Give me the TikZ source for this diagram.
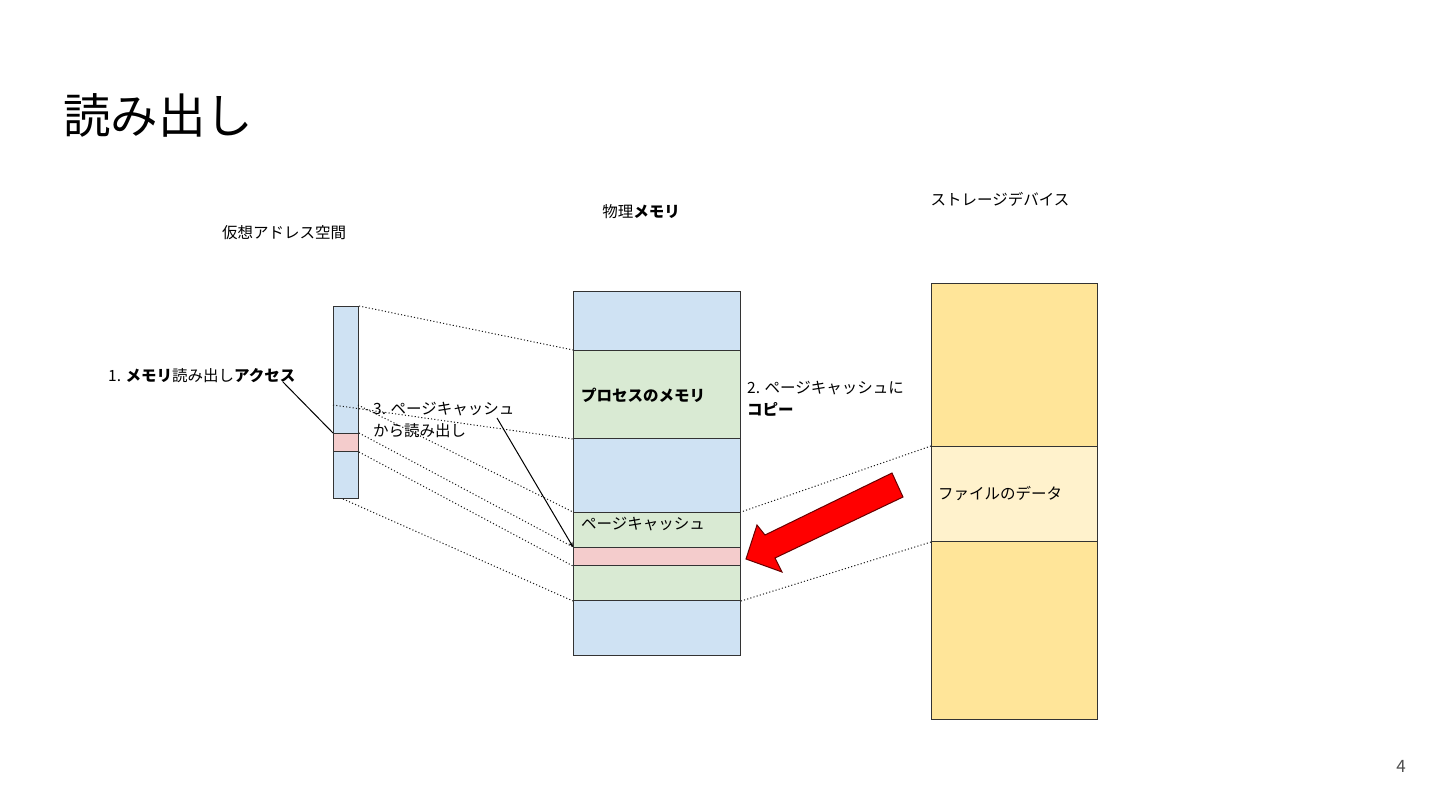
\documentclass[tikz,border=0pt]{standalone}
\usepackage{fontspec}
\setmainfont{Noto Sans CJK JP}
\usetikzlibrary{arrows.meta}
\definecolor{cblue}{HTML}{CFE2F3}
\definecolor{cgreen}{HTML}{D9EAD3}
\definecolor{cpink}{HTML}{F4CCCC}
\definecolor{cyel}{HTML}{FFE599}
\definecolor{clyel}{HTML}{FFF2CC}
\definecolor{cborder}{HTML}{333333}
\begin{document}
\begin{tikzpicture}[x=1pt,y=-1pt,
  band/.style={draw=cborder, line width=1pt, inner sep=0pt, anchor=north west},
  map/.style={line width=1pt, dash pattern=on 1.1pt off 2.2pt, draw=black!90},
  lbl/.style={inner sep=0pt, anchor=west, align=left, font=\fontsize{15.5}{22}\selectfont},
  hdr/.style={inner sep=0pt, anchor=center, font=\fontsize{15.5}{22}\selectfont},
  callout/.style={line width=1pt, draw=black}]
\useasboundingbox (0,0) rectangle (1440,810);
% title
\node[inner sep=0pt, anchor=west, font=\fontsize{47.5}{52}\selectfont] (title) at (63,115) {読み出し};
\node[inner sep=0pt, font=\fontsize{17}{20}\selectfont, text=black!70] (pnum) at (1401,766) {4};
% headers
\node[hdr] (hv) at (284,233) {仮想アドレス空間};
\node[hdr] (hp) at (641,212) {物理\textbf{メモリ}};
\node[hdr] (hs) at (1000,199) {ストレージデバイス};
% virtual address space
\node[band, fill=cblue, minimum width=25pt, minimum height=127pt] (vtop) at (333,306) {};
\node[band, fill=cpink, minimum width=25pt, minimum height=18pt] (vpink) at (333,433) {};
\node[band, fill=cblue, minimum width=25pt, minimum height=47pt] (vbot) at (333,451) {};
\coordinate (vl405) at (333,405);
\coordinate (vr405) at (358,405);
% physical memory
\node[band, fill=cblue, minimum width=167pt, minimum height=59pt] (p1) at (573,291) {};
\node[band, fill=cgreen, minimum width=167pt, minimum height=88pt] (p2) at (573,350) {};
\node[band, fill=cblue, minimum width=167pt, minimum height=74pt] (p3) at (573,438) {};
\node[band, fill=cgreen, minimum width=167pt, minimum height=88pt] (p4) at (573,512) {};
\node[band, fill=cpink, minimum width=167pt, minimum height=18pt] (ppink) at (573,547) {};
\node[band, fill=cblue, minimum width=167pt, minimum height=55pt] (p5) at (573,600) {};
\node[lbl] (tproc) at (581,395) {\textbf{プロセスのメモリ}};
\node[lbl] (tpc) at (581,524) {ページキャッシュ};
% storage
\node[band, fill=cyel, minimum width=166pt, minimum height=163pt] (s1) at (931,283) {};
\node[band, fill=clyel, minimum width=166pt, minimum height=95pt] (s2) at (931,446) {};
\node[band, fill=cyel, minimum width=166pt, minimum height=178pt] (s3) at (931,541) {};
\node[lbl] (tfile) at (938,494) {ファイルのデータ};
% mapping lines
\draw[map] (vtop.north east) -- (p2.north west);
\draw[map] (vl405) -- (p2.south west);
\draw[map] (vr405) -- (p4.north west);
\draw[map] (vpink.north east) -- (ppink.north west);
\draw[map] (vpink.south east) -- (ppink.south west);
\draw[map] ([xshift=-3pt]vbot.south) -- (p4.south west);
\draw[map] (s2.north west) -- (p4.north east);
\draw[map] (s2.south west) -- (p4.south east);
% labels
\node[lbl] (l1) at (108,376) {1. \textbf{メモリ}読み出し\textbf{アクセス}};
\node[lbl, anchor=north west] (l3) at (373,402) {3. ページキャッシュ\\から読み出し};
\node[lbl, anchor=north west] (l2) at (747,381) {2. ページキャッシュに\\\textbf{コピー}};
\coordinate (l1end) at (283,382);
\coordinate (l3end) at (497,418);
\draw[callout] (l1end) -- (vpink.north west);
\draw[callout, -{Stealth[length=5pt,width=4pt]}] (l3end) -- (ppink.north west);
% red arrow
\draw[fill=red, draw=black!60!red, line width=1pt, line join=miter]
  (892,473) -- (903,497) -- (775,558) -- (782,572) -- (746,559) -- (757,525) -- (765,535) -- cycle;
\end{tikzpicture}
\end{document}
